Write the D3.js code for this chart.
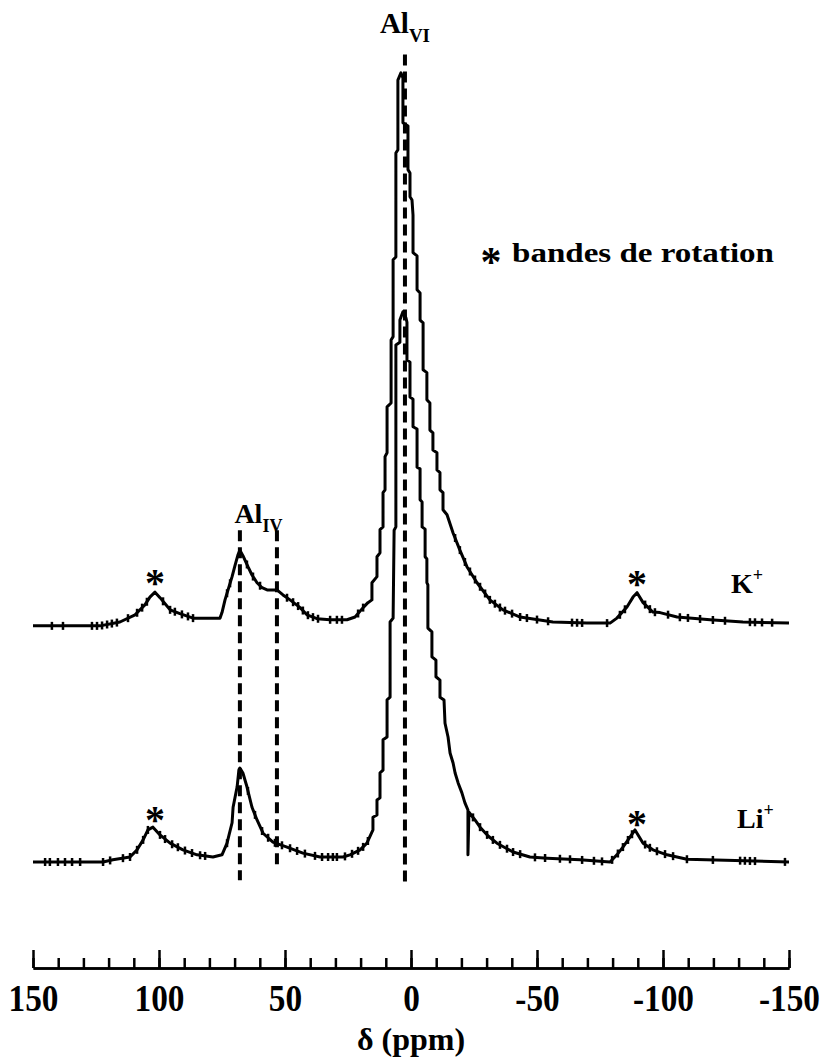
<!DOCTYPE html>
<html><head><meta charset="utf-8">
<script src="https://cdn.jsdelivr.net/npm/d3@7"></script>
<style>
html,body{margin:0;padding:0;background:#fff;}
</style></head>
<body><svg id="c" width="821" height="1057"></svg>
<script>
// ---- data (ppm, intensity in arbitrary units, main peak ~100) ----
const kPpm = [150,139.3,123.4,115.5,109.5,105.6,103.6,101.6,99.6,95.6,91.7,86.5,75.8,75.0,73.8,72.6,71.0,69.8,68.7,67.9,66.7,64.7,63.1,61.1,59.1,57.1,53.2,50.8,48.0,44.0,41.3,37.3,32.1,25.4,22.2,19.0,17.1,15.5,15.5,13.5,13.5,12.3,12.3,11.1,11.1,10.3,10.3,9.5,9.5,7.9,7.9,7.1,7.1,6.0,6.0,5.2,5.2,4.0,3.2,3.2,1.2,1.2,0.4,0.4,-0.4,-0.8,-0.8,-2.4,-2.4,-3.6,-3.6,-4.8,-4.8,-6.3,-6.3,-7.5,-7.5,-8.7,-8.7,-10.3,-10.3,-11.5,-11.5,-12.7,-12.7,-14.3,-16.7,-19.4,-22.2,-26.2,-31.3,-36.5,-43.3,-56.3,-69.8,-79.0,-81.7,-85.7,-88.1,-89.7,-92.1,-96.0,-98.8,-105.6,-118.7,-131.7,-150];
const kInt = [0,0,0,0.7,2.0,3.8,5.2,6.1,5.1,2.9,2.2,1.4,1.4,2.4,4.7,6.5,8.9,11.0,12.8,13.7,12.7,10.7,9.2,7.8,6.9,6.5,6.5,5.6,4.7,3.3,2.0,1.3,1.1,1.1,1.6,3.3,4.2,4.7,7.8,8.9,12.5,13.2,17.4,17.9,24.1,24.6,30.6,31.3,39.6,40.3,51.7,52.3,66.2,66.7,85.5,86.1,98.7,100,99.1,91.0,90.4,82.5,81.9,77.6,77.0,74.3,67.5,66.9,60.8,60.2,55.3,54.8,46.3,45.8,40.9,40.3,35.4,34.9,31.8,31.3,28.2,27.7,24.6,24.1,21.0,20.1,16.8,13.7,10.7,7.8,4.7,2.9,1.6,0.7,0.5,0.5,1.4,3.4,5.2,6.0,4.2,2.5,2.4,1.6,1.1,0.7,0.5];

const liPpm = [150,122.2,118.3,111.5,108.7,106.3,104.4,102.4,99.6,95.6,90.5,84.9,78.6,75.0,73.0,72.2,71.0,70.6,69.0,68.3,67.9,66.7,65.1,63.1,61.1,58.7,54.8,49.2,42.9,36.1,27.0,24.2,20.2,17.5,15.1,15.1,13.5,13.5,12.3,12.3,11.1,11.1,9.5,9.5,8.3,8.3,7.1,6.7,6.0,6.0,4.4,4.4,3.2,2.0,1.6,1.6,0.4,0.4,-0.8,-0.8,-2.4,-2.4,-3.6,-3.6,-4.4,-4.4,-5.6,-5.6,-6.3,-6.3,-6.7,-6.7,-8.3,-8.3,-9.9,-9.9,-11.5,-11.5,-13.1,-13.5,-14.7,-15.5,-16.7,-17.5,-18.7,-20.2,-21.4,-22.6,-22.6,-23.0,-25.4,-27.4,-30.6,-34.1,-40.5,-47.2,-54.0,-67.1,-79.0,-81.7,-84.1,-86.9,-88.9,-92.1,-96.0,-101.6,-109.5,-150];
const liInt = [0,0,0.4,0.9,2.2,4.0,5.8,6.3,4.9,3.4,2.2,1.3,0.9,1.3,3.4,4.9,7.1,9.9,13.6,16.6,17.0,16.1,13.6,9.9,7.6,5.2,3.6,2.7,1.6,0.9,0.9,1.3,2.2,3.4,5.8,8.1,8.5,11.2,11.6,16.1,16.6,22.1,22.6,29.3,29.8,43.4,44.1,60.0,60.6,93.5,94.0,98.0,99.5,98.4,97.6,90.8,90.4,84.1,83.7,78.7,78.3,71.4,71.1,65.5,65.1,60.6,60.2,55.2,54.8,50.5,50.1,42.3,41.6,37.1,36.5,33.5,32.9,29.8,29.3,25.1,22.6,19.7,17.9,16.1,14.3,12.5,10.7,9.4,1.3,9.0,7.6,6.3,4.7,3.4,1.8,0.9,0.7,0.4,0,1.3,2.7,4.5,5.8,3.4,2.2,1.3,0.5,0];

// small noise spikes seen on the traces (ppm)
const kNoise = [142.5,138.1,126.6,124.6,122.6,120.6,118.7,116.7,112.3,108.7,106.7,104.8,98.4,95.6,93.7,90.9,88.5,86.5,73.0,71.8,65.1,62.7,59.9,49.2,46.8,44.8,42.9,40.9,38.9,36.9,32.1,29.4,27.4,21.0,19.0,-17.5,-19.4,-21.4,-23.4,-25.4,-27.4,-29.4,-31.3,-33.3,-35.3,-37.3,-40.1,-43.3,-46.0,-50.0,-54.4,-63.9,-65.9,-67.9,-77.8,-82.9,-84.9,-92.9,-94.8,-96.8,-102.0,-106.7,-109.9,-114.7,-119.8,-124.6,-134.5,-136.5,-139.3,-143.3];
const liNoise = [145.2,143.3,140.1,137.3,134.5,131.3,122.2,119.4,114.3,111.5,108.7,106.3,104.4,99.6,97.6,94.8,92.5,89.7,86.9,83.7,81.7,73.0,64.7,61.9,59.1,56.7,54.0,51.2,48.0,45.2,42.1,38.1,35.3,32.9,31.0,29.4,26.2,23.4,21.0,19.0,17.1,-24.6,-27.4,-30.2,-32.5,-35.3,-38.1,-40.5,-43.3,-49.2,-53.2,-59.1,-63.1,-67.9,-72.6,-75.8,-79.8,-82.1,-84.1,-86.1,-87.7,-92.9,-94.8,-97.6,-100.8,-104.0,-109.5,-119.8,-130.6,-132.5,-134.5,-136.5,-148.4];

const seriesNames = ["K", "Li"];
const seriesOffsets = [42.7, 0];            // vertical stacking offset (intensity units)
const sidebandPpm = [101.6, -89.7];          // spinning sidebands (marked *)
const refLinePpm = [2.4, 67.9, 53.2];        // dashed reference lines
const refLineTop = [146, 60, 60];
const refLineBottom = [-4.2, -3.3, -1.2];
const majorTicks = [150, 100, 50, 0, -50, -100, -150];
const minorTicks = d3.range(150, -151, -10);
const xTitle = "δ (ppm)";
const legendText = "bandes de  rotation";

const FONT = "'Liberation Serif', 'Times New Roman', 'DejaVu Serif', serif";

// ---- scales ----
const svg = d3.select("#c");
const x = d3.scaleLinear().domain([150, -150]).range([33, 789]);
const y = d3.scaleLinear().domain([0, 100]).range([862, 309]);

const spectra = [
  {name: seriesNames[0], ppm: kPpm, val: kInt, off: seriesOffsets[0], noise: kNoise},
  {name: seriesNames[1], ppm: liPpm, val: liInt, off: seriesOffsets[1], noise: liNoise}
];

const line = d3.line().x(d => x(d[0])).y(d => y(d[1]));

function interp(s, p) {
  for (let i = 0; i < s.ppm.length - 1; i++) {
    const a = s.ppm[i], b = s.ppm[i+1];
    if (p <= a && p >= b) {
      const t = a === b ? 0 : (a - p) / (a - b);
      return s.val[i] + t * (s.val[i+1] - s.val[i]);
    }
  }
  return 0;
}

function txt(sel) {
  return sel.style("font-family", FONT).style("font-weight", "bold").attr("fill", "#000");
}

// dashed reference lines
svg.append("g").selectAll("line").data(refLinePpm).join("line")
  .attr("x1", d => x(d)).attr("x2", d => x(d))
  .attr("y1", (d,i) => y(refLineTop[i])).attr("y2", (d,i) => y(refLineBottom[i]))
  .attr("stroke", "#000").attr("stroke-width", 4).attr("stroke-dasharray", "11,6");

// spectra
spectra.forEach(s => {
  const pts = s.ppm.map((p, i) => [p, s.val[i] + s.off]);
  svg.append("path").attr("d", line(pts)).attr("fill", "none")
    .attr("stroke", "#000").attr("stroke-width", 3).attr("stroke-linejoin", "round");
  svg.append("g").selectAll("line").data(s.noise).join("line")
    .attr("x1", d => x(d)).attr("x2", d => x(d))
    .attr("y1", d => y(interp(s, d) + s.off) - 4)
    .attr("y2", d => y(interp(s, d) + s.off) + 4)
    .attr("stroke", "#000").attr("stroke-width", 2.5);
  // sideband stars
  txt(svg.append("g").selectAll("text").data(sidebandPpm).join("text"))
    .attr("x", d => x(d))
    .attr("y", d => y(interp(s, d) + s.off) + 4)
    .attr("text-anchor", "middle").attr("font-size", 40).text("*");
});

// series labels
txt(svg.append("text")).attr("x", 731).attr("y", y(seriesOffsets[0]) - 33).attr("font-size", 28)
  .html(seriesNames[0] + '<tspan font-size="18" dy="-12">+</tspan>');
txt(svg.append("text")).attr("x", 737).attr("y", y(seriesOffsets[1]) - 34).attr("font-size", 28)
  .html(seriesNames[1] + '<tspan font-size="18" dy="-12">+</tspan>');

// peak labels
txt(svg.append("text")).attr("x", x(refLinePpm[0])).attr("y", 33).attr("text-anchor", "middle").attr("font-size", 29)
  .html('Al<tspan font-size="19" dy="9">VI</tspan>');
txt(svg.append("text")).attr("x", (x(refLinePpm[1]) + x(refLinePpm[2])) / 2).attr("y", 523).attr("text-anchor", "middle").attr("font-size", 28)
  .html('Al<tspan font-size="18" dy="9">IV</tspan>');

// legend
txt(svg.append("text")).attr("x", 491).attr("y", 276).attr("text-anchor", "middle").attr("font-size", 42).text("*");
txt(svg.append("text")).attr("x", 512).attr("y", 262).attr("font-size", 28).text(legendText)
  .attr("textLength", 262).attr("lengthAdjust", "spacingAndGlyphs");

// axis
const axisY = 968;
const gMinor = svg.append("g").attr("transform", `translate(0,${axisY})`)
  .call(d3.axisTop(x).tickValues(minorTicks).tickSize(10).tickSizeOuter(0).tickFormat(""));
const gMajor = svg.append("g").attr("transform", `translate(0,${axisY})`)
  .call(d3.axisTop(x).tickValues(majorTicks).tickSize(18).tickSizeOuter(0).tickFormat(""));
[gMinor, gMajor].forEach(g => {
  g.selectAll("path,line").attr("stroke", "#000").attr("stroke-width", 2.5);
});
const gLab = svg.append("g").attr("transform", `translate(0,${axisY})`)
  .call(d3.axisBottom(x).tickValues(majorTicks).tickSize(0).tickPadding(17).tickFormat(d => String(d)));
gLab.select(".domain").remove();
gLab.attr("font-family", null);
txt(gLab.selectAll("text")).attr("font-size", 37).attr("transform", "scale(0.9,1)");

txt(svg.append("text")).attr("x", x(0)).attr("y", 1050)
  .attr("text-anchor", "middle").attr("font-size", 32).text(xTitle);
</script></body></html>
